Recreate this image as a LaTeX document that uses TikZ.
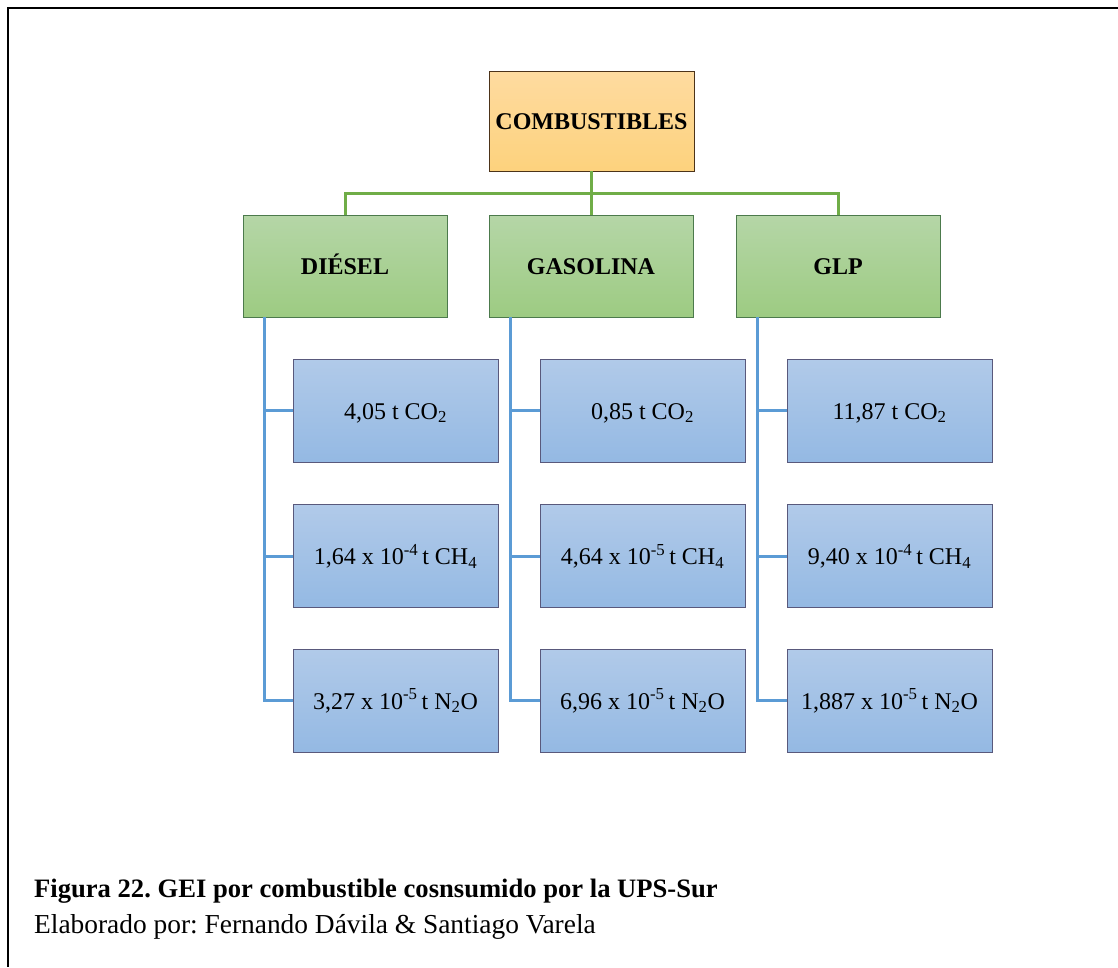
\documentclass[tikz,border=0pt]{standalone}
\usepackage{fontspec}
\setmainfont{Liberation Serif}
\frenchspacing
\begin{document}
\begin{tikzpicture}[x=1pt,y=-1pt,
  box/.style={draw=black!65, line width=1pt, inner sep=0pt, outer sep=0pt,
    align=center, font=\fontsize{24}{28}\selectfont, text height=20pt, text depth=3pt},
  rootbox/.style={box, draw=black!60!brown, minimum width=205pt, minimum height=100pt},
  fuelbox/.style={box, draw=black!55!green!40!gray, minimum width=204pt, minimum height=102pt,
    top color={rgb,255:red,181;green,214;blue,167}, bottom color={rgb,255:red,157;green,203;blue,130}},
  gasbox/.style={box, draw=black!55!blue!30!gray, minimum width=205pt, minimum height=103pt,
    top color={rgb,255:red,177;green,202;blue,233}, bottom color={rgb,255:red,148;green,185;blue,227}},
  gline/.style={draw={rgb,255:red,112;green,173;blue,71}, line width=3pt},
  bline/.style={draw={rgb,255:red,91;green,155;blue,213}, line width=3pt},
  frameline/.style={draw=black, line width=2.5pt}]
\definecolor{rootTop}{RGB}{254,219,160}
\definecolor{rootBot}{RGB}{253,210,125}
\useasboundingbox (0,0) rectangle (1118,967);
% frame
\coordinate (fa) at (8,8);
\coordinate (fb) at (1118,8);
\coordinate (fc) at (8,967);
\draw[frameline] (fb) -- (fa) -- (fc);

% root
\node[rootbox, top color=rootTop, bottom color=rootBot] (root) at (591.5,121) {\textbf{COMBUSTIBLES}};

% fuels
\node[fuelbox] (dsl) at (345,266) {\textbf{DIÉSEL}};
\node[fuelbox] (gas) at (591,266) {\textbf{GASOLINA}};
\node[fuelbox] (glp) at (838,266) {\textbf{GLP}};

% emissions
\node[gasbox] (d1) at (395.5,410.5) {4,05 t CO\textsubscript{2}};
\node[gasbox] (d2) at (395.5,556) {1,64 x 10\textsuperscript{-4}\,t CH\textsubscript{4}};
\node[gasbox] (d3) at (395.5,700.5) {3,27 x 10\textsuperscript{-5}\,t N\textsubscript{2}O};
\node[gasbox] (g1) at (642.5,410.5) {0,85 t CO\textsubscript{2}};
\node[gasbox] (g2) at (642.5,556) {4,64 x 10\textsuperscript{-5}\,t CH\textsubscript{4}};
\node[gasbox] (g3) at (642.5,700.5) {6,96 x 10\textsuperscript{-5}\,t N\textsubscript{2}O};
\node[gasbox] (p1) at (889.5,410.5) {11,87 t CO\textsubscript{2}};
\node[gasbox] (p2) at (889.5,556) {9,40 x 10\textsuperscript{-4}\,t CH\textsubscript{4}};
\node[gasbox] (p3) at (889.5,700.5) {1,887 x 10\textsuperscript{-5}\,t N\textsubscript{2}O};

% green tree connectors
\coordinate (bus) at (0,193);
\draw[gline] (root.south) -- (root.south |- bus);
\draw[gline] (dsl.north) -- (dsl.north |- bus) -- (glp.north |- bus) -- (glp.north);
\draw[gline] (gas.north) -- (gas.north |- bus);

% blue side connectors
\coordinate (ds) at ([xshift=21pt]dsl.south west);
\coordinate (gs) at ([xshift=21pt]gas.south west);
\coordinate (ps) at ([xshift=21pt]glp.south west);
\foreach \s/\a/\b/\c in {ds/d1/d2/d3, gs/g1/g2/g3, ps/p1/p2/p3} {
  \draw[bline] (\s) |- (\c.west);
  \draw[bline] (\s |- \a.west) -- (\a.west);
  \draw[bline] (\s |- \b.west) -- (\b.west);
}

% caption
\node[anchor=base west, inner sep=0pt, font=\fontsize{26.6}{32}\selectfont\bfseries] (cap) at (34,897)
  {Figura 22. GEI por combustible cosnsumido por la UPS-Sur};
\node[anchor=base west, inner sep=0pt, font=\fontsize{27.4}{32}\selectfont] (auth) at (34,933)
  {Elaborado por: Fernando Dávila \& Santiago Varela};
\end{tikzpicture}
\end{document}
